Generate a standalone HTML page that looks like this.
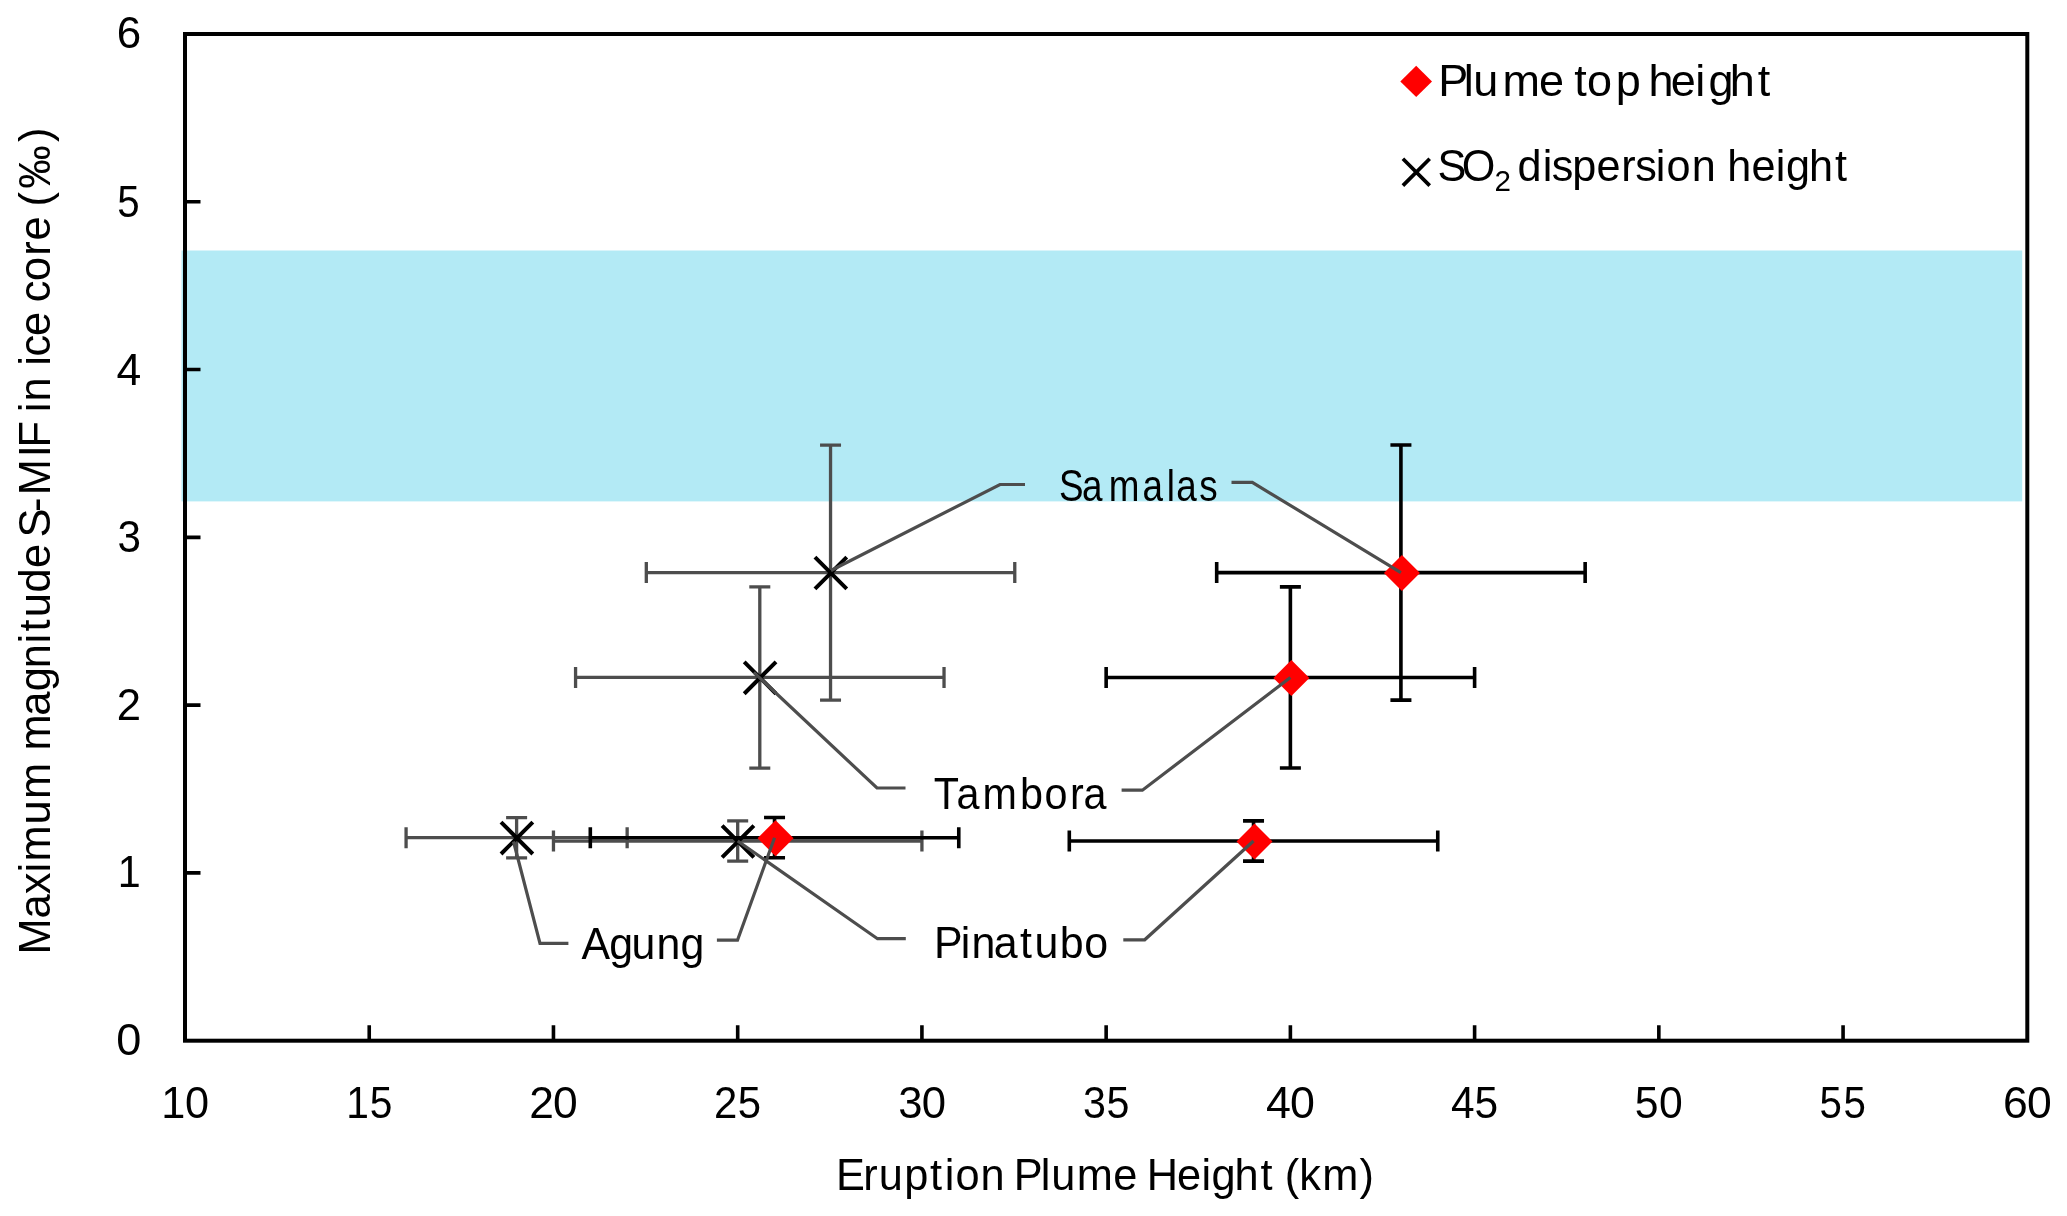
<!DOCTYPE html>
<html><head><meta charset="utf-8"><title>Eruption plume height vs S-MIF</title>
<style>
html,body{margin:0;padding:0;background:#fff;overflow:hidden}
svg{display:block;will-change:transform}
.t{font-family:'Liberation Sans', sans-serif;fill:#000}
</style></head><body>
<svg width="2067" height="1216" viewBox="0 0 2067 1216">
<rect x="181.5" y="250.5" width="1840.7" height="250.9" fill="#B3EAF5"/>
<rect x="185.0" y="34.0" width="1842.30" height="1006.70" fill="none" stroke="#000" stroke-width="4"/>
<path d="M369.23 1040.7V1025.2M553.46 1040.7V1025.2M737.69 1040.7V1025.2M921.92 1040.7V1025.2M1106.15 1040.7V1025.2M1290.38 1040.7V1025.2M1474.61 1040.7V1025.2M1658.84 1040.7V1025.2M1843.07 1040.7V1025.2M185 872.92H200.5M185 705.13H200.5M185 537.35H200.5M185 369.57H200.5M185 201.78H200.5" stroke="#000" stroke-width="3.6" fill="none"/>
<text transform="scale(1.0209 1)" x="113.9" y="1054.9" class="t" style="font-size:44.20px">0</text>
<text transform="scale(0.9339 1)" x="126.1" y="887.4" class="t" style="font-size:44.20px">1</text>
<text transform="scale(0.9873 1)" x="118.2" y="719.9" class="t" style="font-size:44.20px">2</text>
<text transform="scale(0.9553 1)" x="122.9" y="552.1" class="t" style="font-size:44.20px">3</text>
<text transform="scale(1.0069 1)" x="115.8" y="384.7" class="t" style="font-size:44.20px">4</text>
<text transform="scale(0.9100 1)" x="128.9" y="217.2" class="t" style="font-size:44.20px">5</text>
<text transform="scale(0.9930 1)" x="117.5" y="48.4" class="t" style="font-size:44.20px">6</text>
<text transform="scale(0.9797 1)" x="164.7 188.8" y="1117.6" class="t" style="font-size:44.20px">10</text>
<text transform="scale(0.9214 1)" x="375.9 401.2" y="1117.6" class="t" style="font-size:44.20px">15</text>
<text transform="scale(1.0045 1)" x="526.8 550.6" y="1117.6" class="t" style="font-size:44.20px">20</text>
<text transform="scale(0.9479 1)" x="753.3 778.3" y="1117.6" class="t" style="font-size:44.20px">25</text>
<text transform="scale(0.9883 1)" x="908.8 932.7" y="1117.6" class="t" style="font-size:44.20px">30</text>
<text transform="scale(0.9327 1)" x="1161.2 1186.3" y="1117.6" class="t" style="font-size:44.20px">35</text>
<text transform="scale(1.0137 1)" x="1248.9 1272.5" y="1117.6" class="t" style="font-size:44.20px">40</text>
<text transform="scale(0.9600 1)" x="1511.5 1536.0" y="1117.6" class="t" style="font-size:44.20px">45</text>
<text transform="scale(0.9657 1)" x="1692.7 1717.9" y="1117.6" class="t" style="font-size:44.20px">50</text>
<text transform="scale(0.9100 1)" x="1999.4 2025.8" y="1117.6" class="t" style="font-size:44.20px">55</text>
<text transform="scale(1.0072 1)" x="1988.7 2012.5" y="1117.6" class="t" style="font-size:44.20px">60</text>
<text transform="scale(0.9801 1)" x="852.9 880.7 896.7 922.5 949.0 964.0 974.9 1000.5 1024.6 1034.3 1061.8 1072.5 1098.6 1135.9 1159.5 1170.1 1200.9 1225.8 1236.2 1259.5 1286.1 1299.8 1310.8 1325.7 1349.1 1387.2" y="1190.0" class="t" style="font-size:44.20px">Eruption Plume Height (km)</text>
<text transform="translate(50.3 952.8) rotate(-90) scale(0.9829 1)" x="-1.8 34.9 59.5 81.6 93.0 130.6 156.6 193.3 205.8 241.1 266.1 289.4 314.7 326.9 341.5 366.5 391.5 415.0 422.6 448.6 465.4 504.3 514.0 537.9 550.0 560.9 585.0 597.2 606.7 627.6 651.1 661.8 683.4 709.3 724.8 748.3 759.2 777.3 824.9" y="0" class="t" style="font-size:44.20px">Maximum magnitude S-MIF in ice core (‰)</text>
<path d="M646.31 572.58H1014.77M646.31 562.08V583.08M1014.77 562.08V583.08M830.54 445.07V700.1M820.04 445.07H841.04M820.04 700.1H841.04" stroke="#4D4D4D" stroke-width="3.3" fill="none"/>
<path d="M575.57 677.45H944.03M575.57 666.95V687.95M944.03 666.95V687.95M759.8 586.85V768.05M749.3 586.85H770.3M749.3 768.05H770.3" stroke="#4D4D4D" stroke-width="3.3" fill="none"/>
<path d="M406.08 837.68H627.15M406.08 827.18V848.18M627.15 827.18V848.18M516.61 817.55V857.82M506.11 817.55H527.11M506.11 857.82H527.11" stroke="#4D4D4D" stroke-width="3.3" fill="none"/>
<path d="M553.46 841.04H921.92M553.46 830.54V851.54M921.92 830.54V851.54M737.69 820.9V861.17M727.19 820.9H748.19M727.19 861.17H748.19" stroke="#4D4D4D" stroke-width="3.3" fill="none"/>
<path d="M814.94 557.08L846.74 588.88M814.94 588.88L846.74 557.08" stroke="#000" stroke-width="4.0" fill="none"/>
<path d="M744.2 661.95L776 693.75M744.2 693.75L776 661.95" stroke="#000" stroke-width="4.0" fill="none"/>
<path d="M501.01 822.18L532.81 853.98M501.01 853.98L532.81 822.18" stroke="#000" stroke-width="4.0" fill="none"/>
<path d="M722.09 825.54L753.89 857.34M722.09 857.34L753.89 825.54" stroke="#000" stroke-width="4.0" fill="none"/>
<path d="M1216.69 572.58H1585.15M1216.69 562.08V583.08M1585.15 562.08V583.08M1400.92 445.07V700.1M1390.42 445.07H1411.42M1390.42 700.1H1411.42" stroke="#000" stroke-width="3.6" fill="none"/>
<path d="M1106.15 677.45H1474.61M1106.15 666.95V687.95M1474.61 666.95V687.95M1290.38 586.85V768.05M1279.88 586.85H1300.88M1279.88 768.05H1300.88" stroke="#000" stroke-width="3.6" fill="none"/>
<path d="M590.31 837.68H958.77M590.31 827.18V848.18M958.77 827.18V848.18M774.54 817.55V857.82M764.04 817.55H785.04M764.04 857.82H785.04" stroke="#000" stroke-width="3.6" fill="none"/>
<path d="M1069.3 841.04H1437.76M1069.3 830.54V851.54M1437.76 830.54V851.54M1253.53 820.9V861.17M1243.03 820.9H1264.03M1243.03 861.17H1264.03" stroke="#000" stroke-width="3.6" fill="none"/>
<path d="M1401.92 555.08L1419.92 573.08L1401.92 591.08L1383.92 573.08Z" fill="#FF0000"/>
<path d="M1291.38 659.95L1309.38 677.95L1291.38 695.95L1273.38 677.95Z" fill="#FF0000"/>
<path d="M775.54 820.18L793.54 838.18L775.54 856.18L757.54 838.18Z" fill="#FF0000"/>
<path d="M1254.53 823.54L1272.53 841.54L1254.53 859.54L1236.53 841.54Z" fill="#FF0000"/>
<path d="M831 570.5L1000 484.5L1025 484.5" stroke="#4D4D4D" stroke-width="3.2" fill="none" stroke-linejoin="miter"/>
<path d="M1231.5 482.3L1252.3 482.3L1400.92 572.58" stroke="#4D4D4D" stroke-width="3.2" fill="none" stroke-linejoin="miter"/>
<path d="M753.8 672.3L877 788L905.5 788" stroke="#4D4D4D" stroke-width="3.2" fill="none" stroke-linejoin="miter"/>
<path d="M1121.6 790.2L1142.4 790.2L1290.38 677.45" stroke="#4D4D4D" stroke-width="3.2" fill="none" stroke-linejoin="miter"/>
<path d="M513.5 841.5L540 943.3L568.4 943.3" stroke="#4D4D4D" stroke-width="3.2" fill="none" stroke-linejoin="miter"/>
<path d="M716.9 940.2L737.5 940.2L774.54 837.68" stroke="#4D4D4D" stroke-width="3.2" fill="none" stroke-linejoin="miter"/>
<path d="M737.69 841.04L877.5 938.7L905.8 938.7" stroke="#4D4D4D" stroke-width="3.2" fill="none" stroke-linejoin="miter"/>
<path d="M1123.3 939.8L1144.7 939.8L1253.53 841.04" stroke="#4D4D4D" stroke-width="3.2" fill="none" stroke-linejoin="miter"/>
<text transform="scale(0.8336 1)" x="1270.3 1298.1 1330.0 1370.7 1399.7 1411.0 1438.6" y="501.2" class="t" style="font-size:44.20px">Samalas</text>
<text transform="scale(0.9344 1)" x="999.4 1023.6 1051.6 1091.5 1117.8 1145.0 1159.6" y="809.1" class="t" style="font-size:44.20px">Tambora</text>
<text transform="scale(0.9695 1)" x="599.7 628.4 651.4 677.1 701.9" y="958.7" class="t" style="font-size:44.20px">Agung</text>
<text transform="scale(0.9707 1)" x="962.2 989.8 1000.9 1023.7 1050.9 1065.7 1091.7 1116.9" y="958.4" class="t" style="font-size:44.20px">Pinatubo</text>
<path d="M1416.2 65.8L1432 81.5L1416.2 97.1L1400.3 81.5Z" fill="#FF0000"/>
<path d="M1402.9 158.7L1429.7 185.6M1402.9 185.6L1429.7 158.7" stroke="#000" stroke-width="3.7" fill="none"/>
<text transform="scale(1.0173 1)" x="1413.7 1438.9 1448.3 1476.9 1512.9 1533.7 1547.5 1560.1 1588.4 1609.8 1620.5 1642.4 1666.4 1679.5 1700.3 1727.9" y="96.1" class="t" style="font-size:44.20px">Plume top height</text>
<text transform="scale(0.9773 1)" y="181.5" class="t" style="font-size:44.20px"><tspan x="1470.9 1495.8">SO</tspan><tspan x="1529.2" y="190.9" style="font-size:30.31px">2</tspan><tspan x="1541.0 1552.7 1578.7 1587.9 1608.9 1633.5 1658.9 1673.3 1694.3 1705.3 1731.0 1755.2 1767.4 1792.1 1817.1 1827.5 1851.0 1877.7" y="181.5"> dispersion height</tspan></text>
</svg>
</body></html>
